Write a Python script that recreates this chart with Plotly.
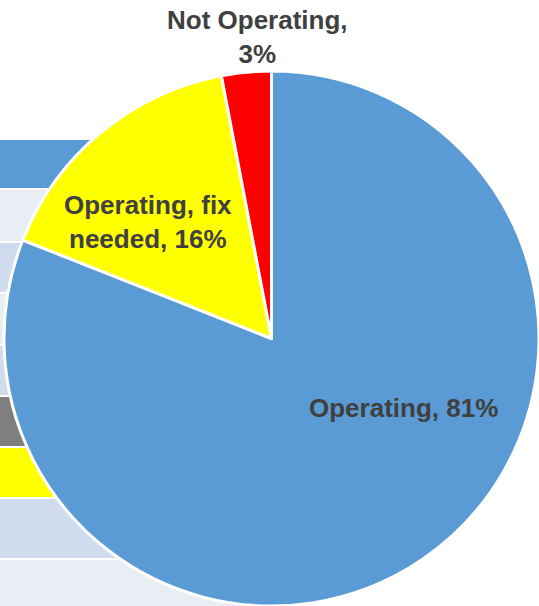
import plotly.graph_objects as go

# Pie data
labels = ['Operating', 'Operating, fix needed', 'Not Operating']
values = [81, 16, 3]
colors = ['#5b9bd5', '#ffff00', '#ff0000']

W, H = 539, 606

# Background slide table rows peeking out from behind the pie (pixel rows, top-down)
row_tops = [140, 190, 243, 294, 346, 397, 448, 499, 560]
row_bottoms = [188, 241, 292, 344, 395, 446, 497, 558, 606]
row_colors = ['#5b9bd5', '#e9edf4', '#d0dbee', '#e9edf4', '#d0dbee',
              '#7f7f7f', '#ffff00', '#d0dbee', '#e9edf4']

shapes = []
for top, bot, c in zip(row_tops, row_bottoms, row_colors):
    shapes.append(dict(type='rect', xref='paper', yref='paper', layer='below',
                       x0=0, x1=300 / W, y0=1 - bot / H, y1=1 - top / H,
                       fillcolor=c, line=dict(width=0)))

cx, cy, r = 271.5, 338.5, 267.5

fig = go.Figure(go.Pie(
    labels=labels, values=values, sort=False, direction='clockwise', rotation=0,
    marker=dict(colors=colors, line=dict(color='white', width=3)),
    textinfo='none', hoverinfo='label+percent', showlegend=False,
    domain=dict(x=[(cx - r) / W, (cx + r) / W], y=[1 - (cy + r) / H, 1 - (cy - r) / H]),
))

lab_font = dict(family='Liberation Sans, Arial, sans-serif', size=26, color='#404040')
notes = [
    ('<b>Not Operating,<br>3%</b>', 257, 37),
    ('<b>Operating, fix<br>needed, 16%</b>', 148, 222),
    ('<b>Operating, 81%</b>', 403, 408),
]
annotations = [dict(text=t, x=x / W, y=1 - y / H, xref='paper', yref='paper',
                    xanchor='center', yanchor='middle',
                    showarrow=False, font=lab_font, align='center')
               for t, x, y in notes]

fig.update_layout(width=W, height=H, margin=dict(l=0, r=0, t=0, b=0),
                  paper_bgcolor='white', plot_bgcolor='white',
                  shapes=shapes, annotations=annotations)

fig.write_html('out.html', config={'displayModeBar': False},
               post_script="document.body.style.margin='0';")
